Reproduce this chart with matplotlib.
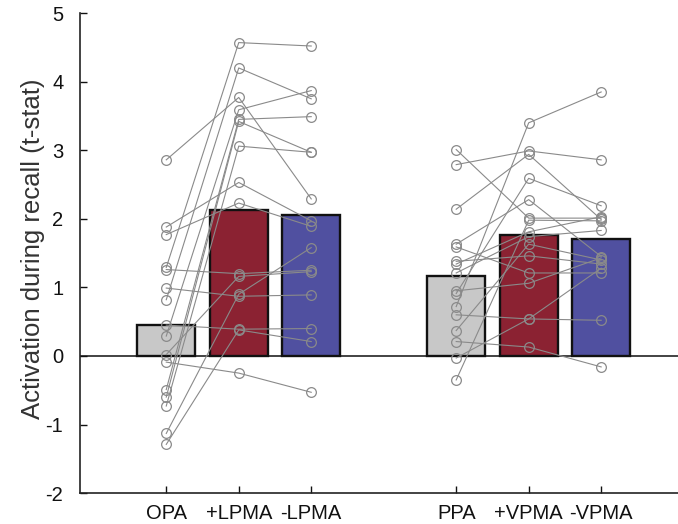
import matplotlib
matplotlib.use("Agg")
import matplotlib.pyplot as plt
import numpy as np

plt.rcParams['font.family'] = ['Liberation Sans', 'DejaVu Sans']
plt.rcParams['axes.unicode_minus'] = False

categories = ["OPA", "+LPMA", "-LPMA", "PPA", "+VPMA", "-VPMA"]
positions = [1, 2, 3, 5, 6, 7]
bar_means = [0.45, 2.13, 2.06, 1.17, 1.77, 1.70]
bar_colors = ["#c8c8c8", "#8b2232", "#5050a0", "#c8c8c8", "#8b2232", "#5050a0"]

# individual subjects (paired across conditions)
opa   = [1.29, 0.82, 2.86, 0.29, -0.49, -0.60, -0.73, 1.88, 1.77, 1.26, 0.02, 0.99, -1.13, -1.29, 0.45, -0.09]
plpma = [4.57, 4.20, 3.77, 3.59, 3.45, 3.42, 3.06, 2.53, 2.23, 1.20, 1.16, 0.87, 0.90, 0.38, 0.39, -0.25]
mlpma = [4.52, 3.75, 2.29, 3.87, 3.49, 2.97, 2.97, 1.97, 1.89, 1.25, 1.23, 0.89, 1.58, 0.21, 0.40, -0.53]

ppa   = [3.01, 2.79, 2.14, 0.72, 1.63, 0.37, 1.59, 1.38, 1.34, 1.21, 0.95, 0.91, 0.60, 0.21, -0.03, -0.35]
pvpma = [2.01, 2.99, 2.94, 3.40, 2.28, 1.63, 1.21, 1.46, 1.81, 1.74, 1.06, 2.59, 0.54, 0.13, 0.54, 1.98]
mvpma = [2.01, 2.86, 1.99, 3.85, 1.45, 1.40, 1.21, 1.34, 2.03, 1.83, 1.43, 2.19, 0.52, -0.16, 1.28, 1.97]

yticks = [-2, -1, 0, 1, 2, 3, 4, 5]

fig = plt.figure(figsize=(6.78, 5.24), dpi=100)
ax = fig.add_axes([0.118, 0.059, 0.882, 0.916])

ax.axhline(0, color="#222222", lw=1.2, zorder=1)
ax.bar(positions, bar_means, width=0.8, color=bar_colors, edgecolor="#111111",
       linewidth=1.7, zorder=2)

line_kw = dict(color="#8a8a8a", lw=0.8, zorder=3)
mk_kw = dict(marker="o", markersize=7.0, markerfacecolor="none",
             markeredgecolor="#8a8a8a", markeredgewidth=0.9, linestyle="none", zorder=4)

for group, xs in (((opa, plpma, mlpma), positions[:3]), ((ppa, pvpma, mvpma), positions[3:])):
    arr = np.array(group)
    for j in range(arr.shape[1]):
        ax.plot(xs, arr[:, j], **line_kw)
    for i, x in enumerate(xs):
        ax.plot([x] * arr.shape[1], arr[i], **mk_kw)

ax.set_xlim(-0.19, 8.06)
ax.set_ylim(-2, 5)
ax.set_yticks(yticks)
ax.set_yticklabels([str(t) for t in yticks])
ax.set_xticks(positions)
ax.set_xticklabels(categories)
ax.tick_params(direction="in", length=5, width=1, labelsize=14.5, colors="#111111")
ax.tick_params(axis="y", pad=12)
ax.tick_params(axis="x", pad=8)
ax.spines["top"].set_visible(False)
ax.spines["right"].set_visible(False)
for s in ("left", "bottom"):
    ax.spines[s].set_linewidth(1.2)
    ax.spines[s].set_color("#222222")
ax.set_ylabel("Activation during recall (t-stat)", fontsize=18.5, color="#333333")
ax.yaxis.set_label_coords(-0.058, 0.51)

fig.savefig("out.png", dpi=100)
